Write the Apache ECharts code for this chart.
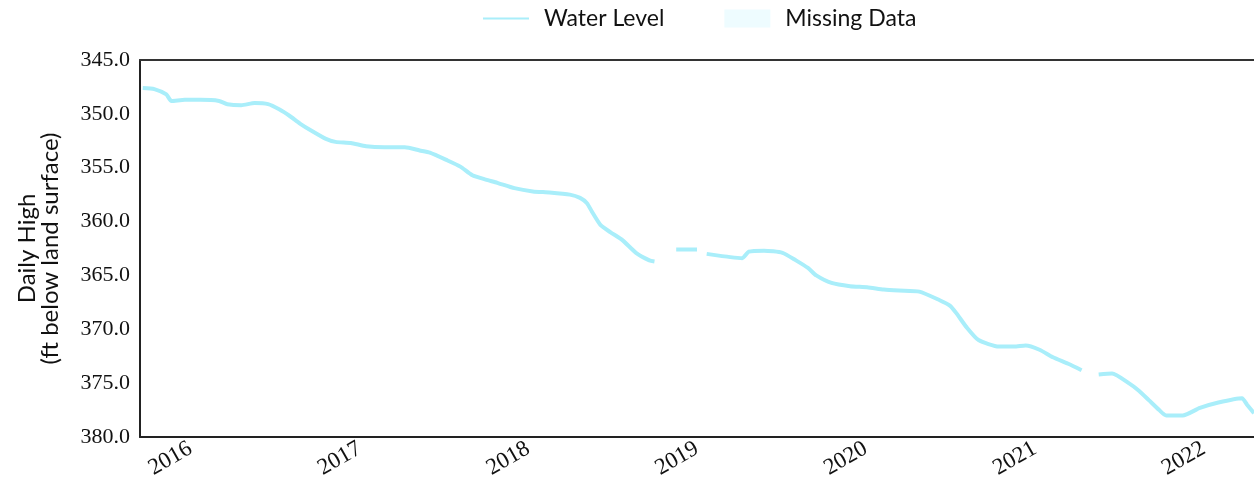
<!DOCTYPE html>
<html>
<head>
<meta charset="utf-8">
<script src="https://cdn.jsdelivr.net/npm/echarts@6/dist/echarts.min.js"></script>
<style>
  html, body { margin: 0; padding: 0; background: #ffffff; }
  #chart { width: 1254px; height: 493px; }
</style>
</head>
<body>
<div id="chart"></div>
<script>
// Dates of readings (null level = gap in record)
const dates = [
  '2015-09-20','2015-10-15','2015-11-10','2015-11-21','2015-12-20',
  '2016-01-22','2016-03-03','2016-03-21','2016-04-20','2016-05-19','2016-06-17',
  '2016-07-12','2016-08-03','2016-08-25','2016-09-20','2016-10-19','2016-11-10','2016-12-13',
  '2017-01-15','2017-02-24','2017-04-09','2017-05-11','2017-06-02','2017-07-09',
  '2017-08-07','2017-09-02','2017-10-01','2017-10-26','2017-12-02',
  '2018-01-11','2018-02-16','2018-04-01','2018-04-23','2018-05-08','2018-05-19',
  '2018-06-06','2018-06-28','2018-07-23','2018-08-22','2018-09-20','2018-10-01',
  '2018-10-20',
  '2018-11-17','2019-01-01',
  '2019-01-10',
  '2019-01-22','2019-03-14','2019-04-09','2019-04-23','2019-05-26','2019-07-05',
  '2019-08-03','2019-08-29','2019-09-16','2019-10-19','2019-11-28',
  '2020-01-04','2020-02-09','2020-03-13','2020-04-26','2020-06-09','2020-07-01',
  '2020-07-15','2020-08-06','2020-09-01','2020-10-15','2020-11-17','2020-12-12',
  '2021-01-11','2021-02-09','2021-03-14','2021-04-12',
  '2021-04-28',
  '2021-05-19','2021-06-17','2021-07-23','2021-08-14','2021-09-05','2021-09-27',
  '2021-10-12','2021-11-17','2021-12-24',
  '2022-02-02','2022-03-25','2022-04-05','2022-04-20'
];
const waterLevel = [
  347.6, 347.7, 348.2, 348.8, 348.7,
  348.7, 348.8, 349.1, 349.2, 349.0, 349.1,
  349.6, 350.2, 350.9, 351.6, 352.3, 352.6, 352.7,
  353.0, 353.1, 353.1, 353.4, 353.6, 354.3,
  354.9, 355.7, 356.1, 356.4, 356.9,
  357.2, 357.3, 357.5, 357.8, 358.3, 359.1,
  360.3, 361.0, 361.7, 362.9, 363.6, 363.7,
  null,
  362.6, 362.6,
  null,
  363.0, 363.3, 363.4, 362.8, 362.7, 362.9,
  363.6, 364.3, 365.0, 365.7, 366.0,
  366.1, 366.3, 366.4, 366.5, 367.3, 367.8,
  368.5, 369.8, 371.0, 371.6, 371.6, 371.5,
  371.9, 372.6, 373.2, 373.8,
  null,
  374.2, 374.1, 375.0, 375.7, 376.6, 377.5,
  378.0, 378.0, 377.3,
  376.8, 376.4, 377.0, 377.8
];
const yTicks = [345, 350, 355, 360, 365, 370, 375, 380];
const xRange = ['2015-09-14', '2022-04-20'];
const seriesNames = ['Water Level', 'Missing Data'];
const yTitle = 'Daily High\n(ft below land surface)';

const lineData = dates.map((d, i) => [Date.parse(d), waterLevel[i]]);
const xMin = Date.parse(xRange[0]);
const xMax = Date.parse(xRange[1]);
const serif = 'Liberation Serif';
const sans = 'Lato';

const chart = echarts.init(document.getElementById('chart'), null, { renderer: 'canvas' });
chart.setOption({
  backgroundColor: '#ffffff',
  animation: false,
  legend: {
    top: 2,
    left: 478,
    itemGap: 60,
    itemWidth: 46,
    itemHeight: 18,
    textStyle: { fontFamily: sans, fontSize: 23, color: '#111', padding: [0, 0, 0, 10] },
    data: [
      { name: seriesNames[0], icon: 'path://M0,8 L46,8 L46,10 L0,10 Z', itemStyle: { color: '#a9eefa' } },
      { name: seriesNames[1], icon: 'rect', itemStyle: { color: '#eefcff' } }
    ]
  },
  grid: { left: 140, right: 0, top: 60, bottom: 56, containLabel: false },
  xAxis: [{
    type: 'time',
    min: xMin,
    max: xMax,
    axisLine: { show: true, lineStyle: { color: '#222', width: 2 } },
    axisTick: { show: false },
    splitLine: { show: false },
    axisLabel: {
      rotate: 30,
      margin: 10,
      showMinLabel: false,
      showMaxLabel: false,
      hideOverlap: false,
      fontFamily: serif,
      fontSize: 23,
      color: '#111',
      formatter: function (v) {
        const d = new Date(v);
        return (d.getMonth() === 0 && d.getDate() === 1) ? String(d.getFullYear()) : '';
      }
    }
  }, {
    type: 'time',
    position: 'top',
    min: xMin,
    max: xMax,
    axisLine: { show: true, lineStyle: { color: '#333', width: 2 } },
    axisTick: { show: false },
    axisLabel: { show: false },
    splitLine: { show: false }
  }],
  yAxis: {
    type: 'value',
    inverse: true,
    min: yTicks[0],
    max: yTicks[yTicks.length - 1],
    interval: 5,
    name: yTitle,
    nameLocation: 'middle',
    nameGap: 78,
    nameTextStyle: { fontFamily: sans, fontSize: 24, color: '#111', lineHeight: 23 },
    axisLine: { show: true, lineStyle: { color: '#222', width: 2 } },
    axisTick: { show: false },
    splitLine: { show: false },
    axisLabel: {
      margin: 10,
      fontFamily: serif,
      fontSize: 22,
      color: '#111',
      formatter: v => v.toFixed(1)
    }
  },
  series: [{
    name: seriesNames[0],
    type: 'line',
    xAxisIndex: 0,
    data: lineData,
    showSymbol: false,
    connectNulls: false,
    smooth: 0.2,
    color: '#a9eefa',
    lineStyle: { color: '#a9eefa', width: 4 }
  }, {
    name: seriesNames[1],
    type: 'line',
    xAxisIndex: 0,
    data: [],
    color: '#eefcff',
    showSymbol: false
  }]
});
</script>
</body>
</html>
